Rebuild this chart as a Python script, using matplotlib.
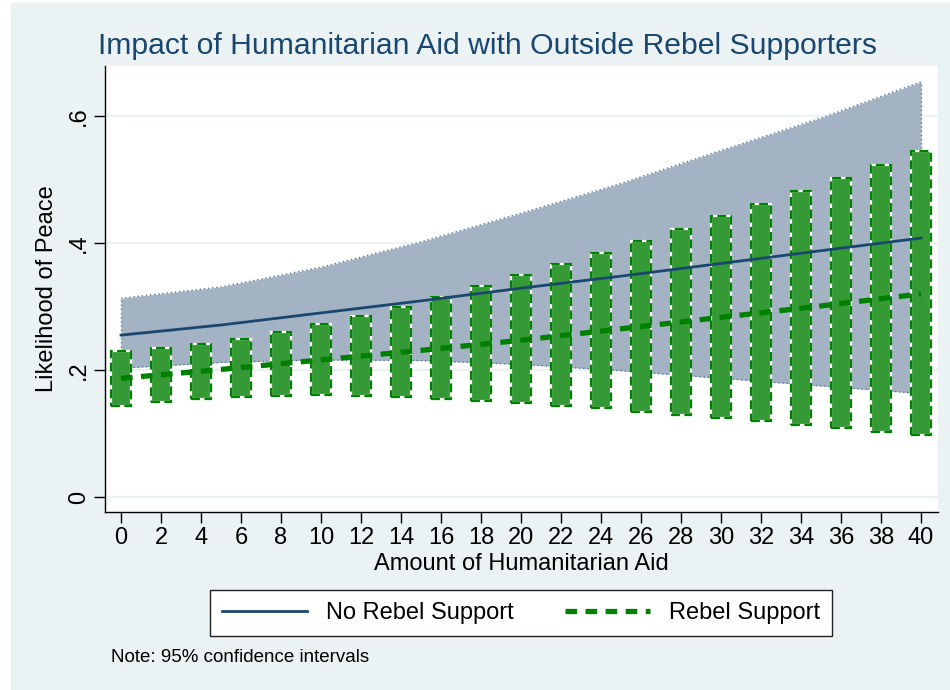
import matplotlib
matplotlib.use("Agg")
import matplotlib.pyplot as plt
from matplotlib.patches import Rectangle

plt.rcParams['font.family'] = ['Liberation Sans', 'DejaVu Sans']

# data
band_x = [0, 5, 10, 15, 20, 25, 30, 35, 40]
band_hi = [0.313, 0.331, 0.362, 0.402, 0.447, 0.494, 0.546, 0.597, 0.654]
band_lo = [0.203, 0.212, 0.216, 0.215, 0.209, 0.199, 0.187, 0.175, 0.163]
no_rebel = [0.255, 0.271, 0.290, 0.309, 0.329, 0.348, 0.368, 0.388, 0.408]
rebel = [0.187, 0.201, 0.216, 0.231, 0.247, 0.265, 0.283, 0.301, 0.320]

aid = list(range(0, 41, 2))
bar_hi = [0.230, 0.234, 0.241, 0.249, 0.260, 0.272, 0.285, 0.300, 0.315, 0.332, 0.350,
          0.367, 0.385, 0.404, 0.423, 0.442, 0.462, 0.482, 0.502, 0.523, 0.545]
bar_lo = [0.143, 0.149, 0.155, 0.158, 0.159, 0.160, 0.159, 0.157, 0.155, 0.152, 0.148,
          0.143, 0.140, 0.134, 0.129, 0.125, 0.119, 0.113, 0.108, 0.102, 0.097]

yticks = [0, 0.2, 0.4, 0.6]
ytick_labels = ['0', '.2', '.4', '.6']

navy = '#1a476f'
band_col = '#a4b3c4'
green_fill = '#359935'
green = '#008000'
bg = '#eaf2f3'

fig = plt.figure(figsize=(9.5, 6.9), dpi=100)
fig.patch.set_facecolor('white')
fig.add_artist(Rectangle((11 / 950, 0), 1 - 11 / 950, 1 - 3 / 690,
                         transform=fig.transFigure, facecolor=bg, edgecolor='none', zorder=-10))

ax = fig.add_axes([105 / 950, 1 - 512 / 690, (938 - 105) / 950, (512 - 66) / 690])
ax.set_facecolor('white')

for y in yticks:
    ax.axhline(y, color=bg, lw=1.6, zorder=0)

# CI band for no rebel support
edge = dict(color='#5d7894', lw=1.0, ls=(0, (1, 2)), zorder=1.5)
ax.fill_between(band_x, band_lo, band_hi, color=band_col, lw=0, zorder=1)
ax.plot(band_x, band_hi, **edge)
ax.plot(band_x, band_lo, **edge)
ax.plot([0, 0], [band_lo[0], band_hi[0]], **edge)
ax.plot([40, 40], [band_lo[-1], band_hi[-1]], **edge)

# CI bars for rebel support
heights = [h - l for h, l in zip(bar_hi, bar_lo)]
ax.bar(aid, heights, bottom=bar_lo, width=1.0, color=green_fill,
       edgecolor='white', lw=1.6, zorder=2)
ax.bar(aid, heights, bottom=bar_lo, width=1.0, fill=False,
       edgecolor=green, lw=1.6, ls=(0, (4, 2)), zorder=2.5)

ax.plot(band_x, no_rebel, color=navy, lw=2.0, zorder=3, label='No Rebel Support')
ax.plot(band_x, rebel, color=green, lw=3.8, ls=(0, (2.2, 1.6)), zorder=3.5,
        label='Rebel Support')

ax.set_xlim(-0.8, 40.85)
ax.set_ylim(-0.0236, 0.679)
ax.set_xticks(aid)
ax.set_xticklabels([str(a) for a in aid])
ax.set_yticks(yticks)
ax.set_yticklabels(ytick_labels, rotation=90, va='center')
ax.tick_params(axis='both', labelsize=17, length=8, width=1, color='black', pad=3)

for side in ['top', 'right']:
    ax.spines[side].set_visible(False)
for side in ['left', 'bottom']:
    ax.spines[side].set_linewidth(1)

ax.set_xlabel('Amount of Humanitarian Aid', fontsize=17, labelpad=3)
ax.set_ylabel('Likelihood of Peace', fontsize=17, labelpad=7)

fig.text(487 / 950, 1 - 46 / 690, 'Impact of Humanitarian Aid with Outside Rebel Supporters',
         ha='center', va='center', fontsize=21.7, color=navy)

leg = fig.legend(loc='center', bbox_to_anchor=(521 / 950, 1 - 613 / 690), ncol=2,
                 fontsize=17, frameon=True, fancybox=False, handlelength=3.6,
                 columnspacing=2.2, borderpad=0.5, handletextpad=0.8, framealpha=1)
leg.get_frame().set_edgecolor('#222222')
leg.get_frame().set_linewidth(1)

fig.text(111 / 950, 1 - 657 / 690, 'Note: 95% confidence intervals', fontsize=13.5,
         ha='left', va='center')

fig.savefig('out.png', dpi=100)
